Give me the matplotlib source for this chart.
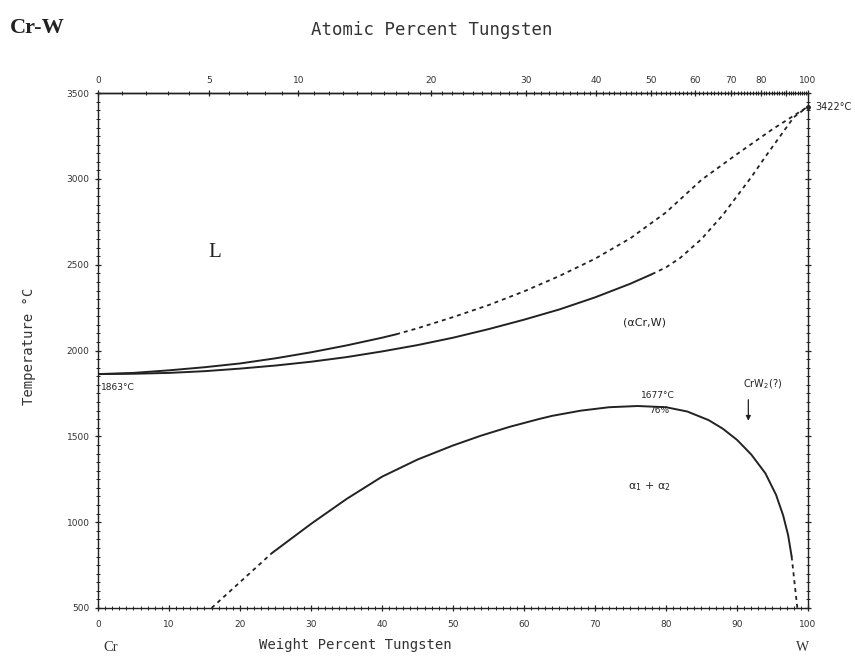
import numpy as np
import matplotlib.pyplot as plt
from matplotlib.ticker import MultipleLocator, FixedLocator

## DATA (weight percent W, temperature in C)
# liquidus, solid part and dashed part
liq_solid_x = [0, 5, 10, 15, 20, 25, 30, 35, 40, 42]
liq_solid_y = [1863, 1870, 1885, 1903, 1925, 1955, 1990, 2030, 2075, 2095]
liq_dash_x = [42, 45, 50, 55, 60, 65, 70, 75, 80, 85, 90, 95, 100]
liq_dash_y = [2095, 2130, 2195, 2265, 2345, 2435, 2535, 2655, 2805, 2995, 3145, 3290, 3422]

# solidus
sol_solid_x = [0, 5, 10, 15, 20, 25, 30, 35, 40, 45, 50, 55, 60, 65, 70, 75, 78]
sol_solid_y = [1863, 1865, 1870, 1880, 1895, 1913, 1935, 1962, 1995, 2032, 2075, 2125, 2180,
               2240, 2310, 2390, 2445]
sol_dash_x = [78, 80, 82, 85, 88, 90, 92, 94, 96, 98, 100]
sol_dash_y = [2445, 2485, 2540, 2650, 2790, 2900, 3010, 3130, 3245, 3360, 3422]

# miscibility gap
gap_dash_l_x = [16, 24.5]
gap_dash_l_y = [500, 820]
gap_solid_x = [24.5, 30, 35, 40, 45, 50, 54, 58, 62, 64, 68, 72, 76, 80, 83, 86, 88, 90,
               92, 94, 95.5, 96.5, 97.2, 97.7]
gap_solid_y = [820, 990, 1135, 1265, 1365, 1447, 1505, 1556, 1600, 1620, 1650, 1670, 1677,
               1670, 1645, 1595, 1545, 1480, 1395, 1285, 1160, 1040, 925, 800]
gap_dash_r_x = [97.7, 98.1, 98.5]
gap_dash_r_y = [800, 650, 500]

at_ticks = [0, 5, 10, 20, 30, 40, 50, 60, 70, 80, 90, 100]
at_labels = ['0', '5', '10', '20', '30', '40', '50', '60', '70', '80', '', '100']

M_CR = 51.996
M_W = 183.84


def wt_to_at(w):
    w = np.clip(np.asarray(w, dtype=float), 1e-9, 100 - 1e-9)
    return 100 * (w / M_W) / (w / M_W + (100 - w) / M_CR)


def at_to_wt(a):
    a = np.clip(np.asarray(a, dtype=float), 0, 100)
    return 100 * a * M_W / (a * M_W + (100 - a) * M_CR)


fig = plt.figure(figsize=(8.55, 6.61), dpi=100)
ax = fig.add_axes([0.1146, 0.0802, 0.8304, 0.7788])

col = '#222222'
dash = (0, (2.2, 2.2))
kw = dict(color=col, solid_joinstyle='round', solid_capstyle='round')
ax.plot(liq_solid_x, liq_solid_y, lw=1.4, **kw)
ax.plot(liq_dash_x, liq_dash_y, lw=1.3, ls=dash, **kw)
ax.plot(sol_solid_x, sol_solid_y, lw=1.4, **kw)
ax.plot(sol_dash_x, sol_dash_y, lw=1.3, ls=dash, **kw)
ax.plot(gap_dash_l_x, gap_dash_l_y, lw=1.3, ls=dash, **kw)
ax.plot(gap_solid_x, gap_solid_y, lw=1.4, **kw)
ax.plot(gap_dash_r_x, gap_dash_r_y, lw=1.3, ls=dash, **kw)
ax.plot([100], [3422], 'o', color=col, ms=2.5, clip_on=False)

ax.set_xlim(0, 100)
ax.set_ylim(500, 3500)

# bottom / left / right ticks
ax.xaxis.set_major_locator(MultipleLocator(10))
ax.xaxis.set_minor_locator(MultipleLocator(1))
ax.yaxis.set_major_locator(MultipleLocator(500))
ax.yaxis.set_minor_locator(MultipleLocator(50))
ax.tick_params(which='both', direction='inout', colors=col, labelsize=6.5,
               right=True, labelcolor='#333333')
ax.tick_params(which='major', length=5, width=0.9)
ax.tick_params(which='minor', length=2.5, width=0.7)
ax.tick_params(axis='x', pad=6)
for s in ax.spines.values():
    s.set_linewidth(1.0)
    s.set_color(col)

# top axis in atomic percent
top = ax.secondary_xaxis('top', functions=(wt_to_at, at_to_wt))
top.xaxis.set_major_locator(FixedLocator(at_ticks))
top.set_xticklabels(at_labels)
top.xaxis.set_minor_locator(FixedLocator(range(0, 101)))
top.tick_params(which='both', direction='inout', colors=col, labelsize=6.5,
                labelcolor='#333333')
top.tick_params(which='major', length=5, width=0.9)
top.tick_params(which='minor', length=2.5, width=0.7)
top.spines['top'].set_linewidth(1.0)

mono = 'DejaVu Sans Mono'
fig.text(0.505, 0.955, 'Atomic Percent Tungsten', ha='center', va='center',
         fontsize=12.5, family=mono, color='#333333')
fig.text(0.415, 0.024, 'Weight Percent Tungsten', ha='center', va='center',
         fontsize=10, family=mono, color='#333333')
fig.text(0.034, 0.476, 'Temperature °C', rotation=90, ha='center', va='center',
         fontsize=10, family=mono, color='#333333')
fig.text(0.012, 0.958, 'Cr-W', ha='left', va='center', fontsize=16,
         fontweight='bold', family='Liberation Serif', color='#222222')
fig.text(0.129, 0.020, 'Cr', ha='center', va='center', fontsize=10.5,
         family='Liberation Serif', color='#333333')
fig.text(0.939, 0.020, 'W', ha='center', va='center', fontsize=10,
         family='Liberation Serif', color='#333333')

# annotations in data coordinates
ax.text(0.4, 1787, '1863°C', fontsize=6.5, ha='left', va='center', color=col)
ax.text(101.0, 3420, '3422°C', fontsize=7, ha='left', va='center', color=col,
        clip_on=False)
ax.text(16.5, 2570, 'L', fontsize=15, family='Liberation Serif', ha='center',
        va='center', color=col)
ax.text(77.0, 2166, '(αCr,W)', fontsize=8, ha='center', va='center', color=col)
ax.text(77.7, 1205, 'α$_1$ + α$_2$', fontsize=8, ha='center', va='center', color=col)
ax.text(78.8, 1738, '1677°C', fontsize=6.5, ha='center', va='center', color=col)
ax.text(79.0, 1650, '76%', fontsize=6.5, ha='center', va='center', color=col)
ax.text(93.6, 1805, 'CrW$_2$(?)', fontsize=7, ha='center', va='center', color=col)
ax.annotate('', xy=(91.6, 1575), xytext=(91.6, 1730),
            arrowprops=dict(arrowstyle='-|>', color=col, lw=0.9,
                            mutation_scale=7))

fig.savefig('out.png', dpi=100)
